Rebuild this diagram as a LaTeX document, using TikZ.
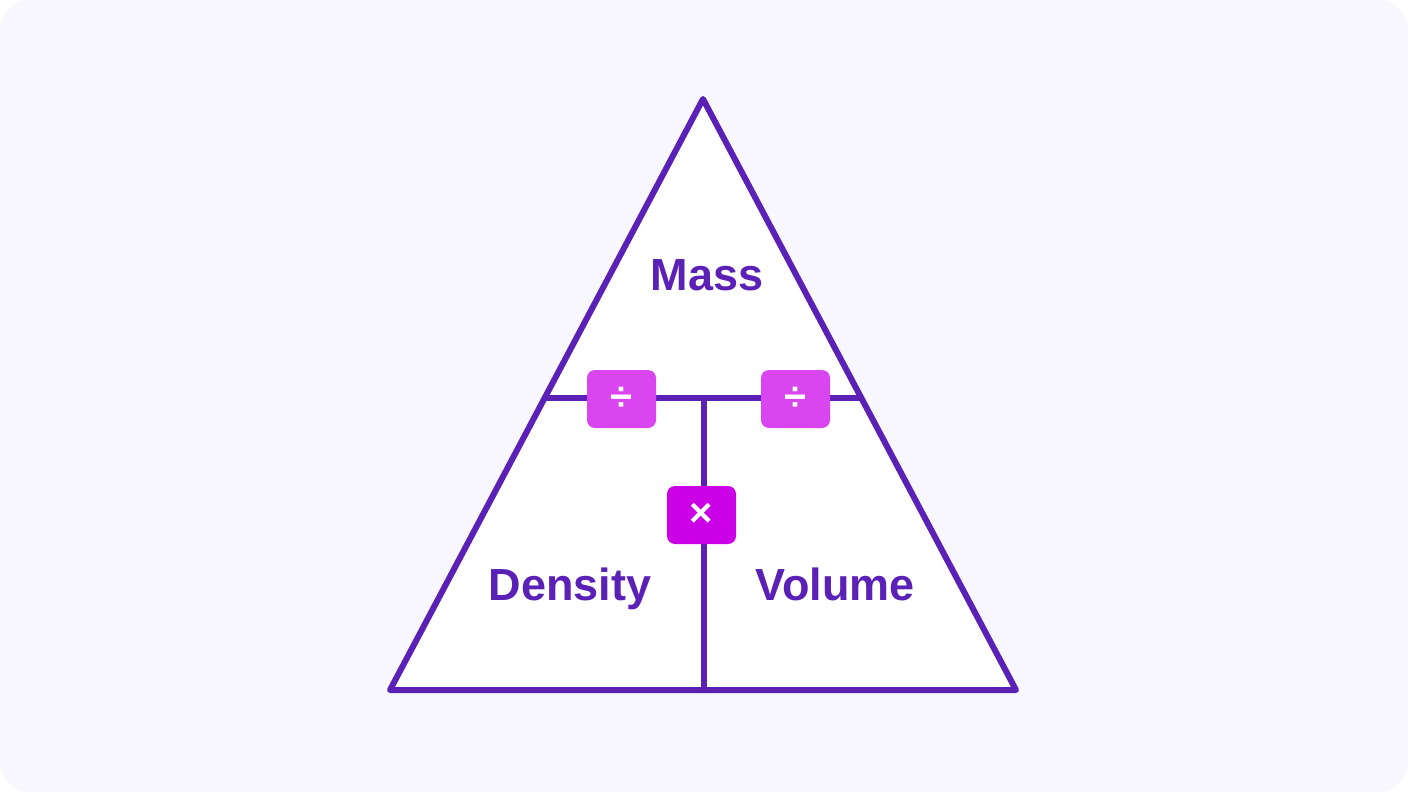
\documentclass[tikz,border=0pt]{standalone}
\usepackage{fontspec}
\setmainfont{Liberation Sans}
\definecolor{bgc}{HTML}{F8F7FD}
\definecolor{linec}{HTML}{5B21B6}
\definecolor{divc}{HTML}{D946EF}
\definecolor{mulc}{HTML}{CC00E6}
\begin{document}
\begin{tikzpicture}[x=1pt,y=-1pt,
  edge/.style={draw=linec,line width=6pt,line cap=round,line join=round},
  opbox/.style={rounded corners=8pt,minimum width=69pt,minimum height=58pt,inner sep=0pt,text=white,font=\fontsize{40}{42}\selectfont\bfseries},
  lbl/.style={text=linec,font=\fontsize{45}{48}\selectfont\bfseries,inner sep=0pt,anchor=base}]
\useasboundingbox (0,0) rectangle (1408,792);
\fill[white] (0,0) rectangle (1408,792);
\fill[bgc,rounded corners=30pt] (0,0) rectangle (1408,792);
\coordinate (apex) at (703,99);
\coordinate (bl) at (390,690);
\coordinate (br) at (1016,690);
\coordinate (ml) at (545,398);
\coordinate (mr) at (861,398);
\coordinate (mt) at (704,398);
\coordinate (mb) at (704,690);
\fill[white] (apex) -- (br) -- (bl) -- cycle;
\draw[edge] (apex) -- (br) -- (bl) -- cycle;
\draw[edge] (ml) -- (mr);
\draw[edge] (mt) -- (mb);
\node[opbox,fill=divc] (d1) at (621.5,399) {÷};
\node[opbox,fill=divc] (d2) at (795.5,399) {÷};
\node[opbox,fill=mulc] (m1) at (701.5,515) {×};
\node[lbl] (mass) at (707,290) {Mass};
\node[lbl] (dens) at (570,600) {Density};
\node[lbl] (vol) at (835,600) {Volume};
\end{tikzpicture}
\end{document}
